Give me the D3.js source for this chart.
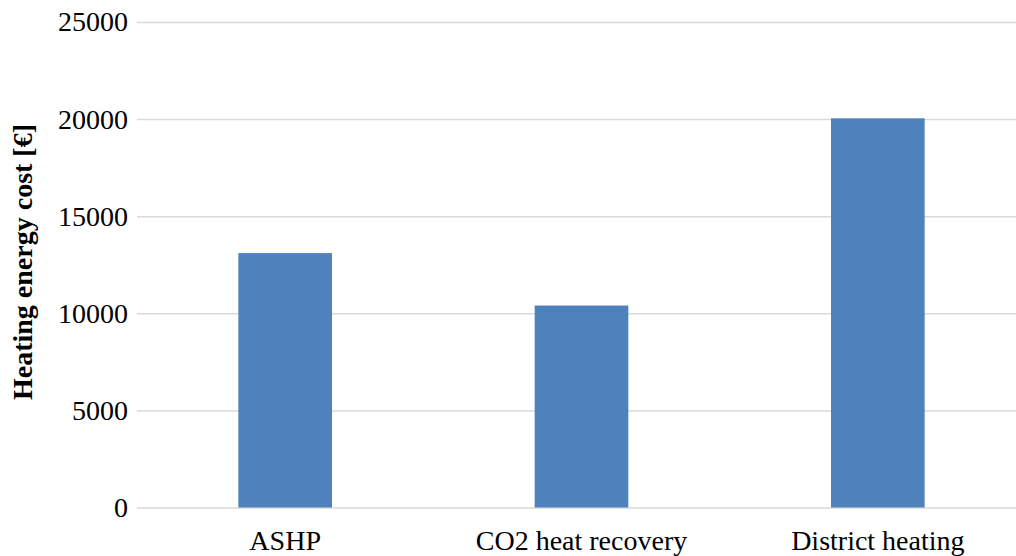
<!DOCTYPE html>
<html>
<head>
<meta charset="utf-8">
<script src="https://cdn.jsdelivr.net/npm/d3@7"></script>
<style>
  html, body { margin: 0; padding: 0; background: #ffffff; }
  svg { display: block; }
</style>
</head>
<body>
<svg id="chart" width="1016" height="556"></svg>
<script>
// Heating energy cost per system
const categories = ["ASHP", "CO2 heat recovery", "District heating"];
const costs = [13100, 10400, 20040];
const yTicks = [0, 5000, 10000, 15000, 20000, 25000];
const yTitle = "Heating energy cost [€]";

const svg = d3.select("#chart");
const plot = { left: 137, right: 1026, top: 22, bottom: 507.5 };

const x = d3.scaleBand().domain(categories).range([plot.left, plot.right]).paddingInner(0.684).paddingOuter(0.342);
const y = d3.scaleLinear().domain([0, 25000]).range([plot.bottom, plot.top]);

const font = "'Liberation Serif', 'Times New Roman', serif";

// horizontal gridlines and value labels
const yAxis = d3.axisLeft(y).tickValues(yTicks).tickSize(-(plot.right - plot.left)).tickFormat(d => d).tickPadding(9);
const gy = svg.append("g").attr("transform", `translate(${plot.left},0)`).call(yAxis);
gy.select(".domain").remove();
gy.selectAll(".tick line").attr("stroke", "#d9d9d9").attr("stroke-width", 1.5);
gy.selectAll(".tick text")
  .attr("font-family", font).attr("font-size", 28).attr("fill", "#000");

// bars
svg.append("g").selectAll("rect").data(categories).join("rect")
  .attr("x", d => x(d))
  .attr("width", x.bandwidth())
  .attr("y", (d, i) => y(costs[i]))
  .attr("height", (d, i) => y(0) - y(costs[i]))
  .attr("fill", "#4f81bd");

// category labels
const xAxis = d3.axisBottom(x).tickSize(0).tickPadding(23);
const gx = svg.append("g").attr("transform", `translate(0,${plot.bottom})`).call(xAxis);
gx.select(".domain").remove();
gx.selectAll(".tick text")
  .attr("font-family", font).attr("font-size", 28).attr("fill", "#000");

// y axis title
svg.append("text")
  .attr("transform", `translate(32,262) rotate(-90)`)
  .attr("text-anchor", "middle")
  .attr("font-family", font).attr("font-size", 28).attr("font-weight", "bold")
  .attr("fill", "#000")
  .text(yTitle);
</script>
</body>
</html>
